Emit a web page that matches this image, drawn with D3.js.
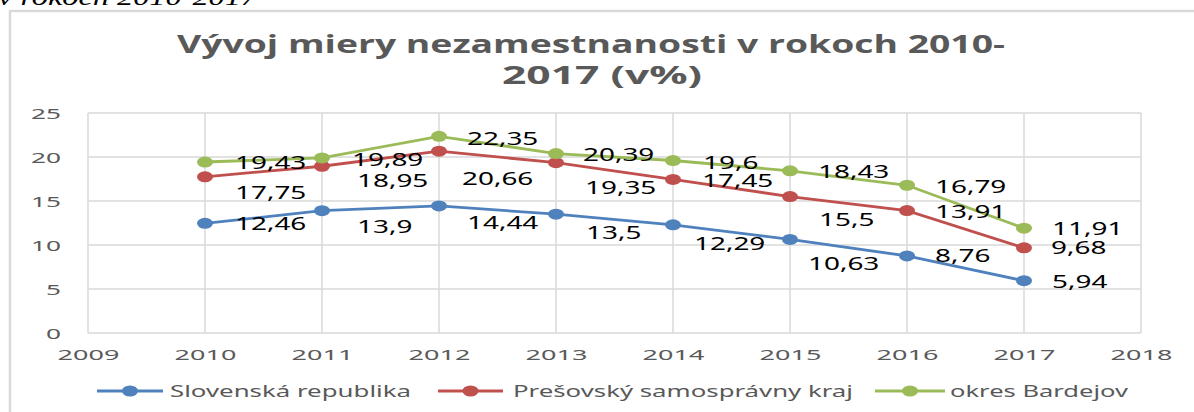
<!DOCTYPE html>
<html><head><meta charset="utf-8">
<script src="https://cdn.jsdelivr.net/npm/d3@7"></script>
<style>html,body{margin:0;padding:0;background:#fff;overflow:hidden}</style>
</head><body>
<svg id="c" width="1194" height="412"></svg>
<script>
// ---- data ----
const years = [2010, 2011, 2012, 2013, 2014, 2015, 2016, 2017];
const seriesNames = ["Slovenská republika", "Prešovský samosprávny kraj", "okres Bardejov"];
const slovensko = [12.46, 13.9, 14.44, 13.5, 12.29, 10.63, 8.76, 5.94];
const presov = [17.75, 18.95, 20.66, 19.35, 17.45, 15.5, 13.91, 9.68];
const bardejov = [19.43, 19.89, 22.35, 20.39, 19.6, 18.43, 16.79, 11.91];
const xTicks = [2009, 2010, 2011, 2012, 2013, 2014, 2015, 2016, 2017, 2018];
const yTicks = [0, 5, 10, 15, 20, 25];
const titleLines = ["Vývoj miery nezamestnanosti v rokoch 2010-", "2017 (v%)"];
const captionText = "v rokoch 2010-2017";

// ---- styles / label placement (not data) ----
const colors = ["#4f81bd", "#c0504d", "#9bbb59"];
const labelDx = [[30,35,28,30,21,18,28,28],[30,35,23,29,29,29,28,27],[30,30,28,27,30,28,28,28]];
const labelDy = [[0,16,17,18,18.5,24,0,1],[16,14.5,27.5,25,1,23,1,0],[1,2,2,1,1.5,1,1,0]];

const svg = d3.select("#c");
const x = d3.scaleLinear().domain([2009, 2018]).range([88, 1141]);
const y = d3.scaleLinear().domain([0, 25]).range([333, 113]);

function stretch(sel, k, anchor) {
  sel.each(function () {
    const w = this.getComputedTextLength();
    const tw = w * k;
    this.setAttribute("textLength", tw);
    this.setAttribute("lengthAdjust", "spacingAndGlyphs");
    const x0 = +this.getAttribute("x");
    let nx = x0;
    if (anchor === "middle") nx = x0 - tw / 2;
    else if (anchor === "end") nx = x0 - tw;
    this.setAttribute("x", nx);
    this.setAttribute("text-anchor", "start");
  });
}

// caption (cut off at top)
svg.append("text").attr("x", -2).attr("y", 5)
  .attr("font-family", "Liberation Serif").attr("font-style", "italic")
  .attr("font-size", 24).attr("fill", "#000")
  .attr("textLength", 259).attr("lengthAdjust", "spacingAndGlyphs")
  .text(captionText);

// frame
svg.append("rect").attr("x", 10).attr("y", 11).attr("width", 1200).attr("height", 420)
  .attr("fill", "#fff").attr("stroke", "#d9d9d9").attr("stroke-width", 2.5);

// title
const tl = svg.append("g").attr("font-family", "Open Sans").attr("font-weight", "bold")
  .attr("font-size", 25).attr("fill", "#595959");
tl.append("text").attr("x", 177).attr("y", 53).attr("textLength", 828)
  .attr("lengthAdjust", "spacingAndGlyphs").text(titleLines[0]);
tl.append("text").attr("x", 502).attr("y", 84).attr("textLength", 200)
  .attr("lengthAdjust", "spacingAndGlyphs").text(titleLines[1]);

// gridlines
const grid = svg.append("g").attr("stroke", "#d9d9d9").attr("stroke-width", 1.5);
grid.selectAll("line.h").data(yTicks).join("line")
  .attr("x1", x(2009)).attr("x2", x(2018)).attr("y1", d => y(d)).attr("y2", d => y(d));
grid.selectAll("line.v").data(xTicks).join("line")
  .attr("y1", y(25)).attr("y2", y(0)).attr("x1", d => x(d)).attr("x2", d => x(d));

// axes via d3 axis
const yAxis = svg.append("g").attr("transform", `translate(${x(2009)},0)`)
  .call(d3.axisLeft(y).tickValues(yTicks).tickSize(0).tickPadding(27));
yAxis.select(".domain").remove();
yAxis.selectAll("text").attr("font-family", "Noto Sans").attr("font-size", 15)
  .attr("fill", "#595959").attr("dy", "0.36em");
stretch(yAxis.selectAll("text"), 1.75, "end");

const xAxis = svg.append("g").attr("transform", `translate(0,${y(0)})`)
  .call(d3.axisBottom(x).tickValues(xTicks).tickFormat(d3.format("d")).tickSize(0).tickPadding(16));
xAxis.select(".domain").remove();
xAxis.selectAll("text").attr("font-family", "Noto Sans").attr("font-size", 15)
  .attr("fill", "#595959").attr("dy", "0.71em");
stretch(xAxis.selectAll("text"), 1.8, "middle");

// series
const all = [slovensko, presov, bardejov];
const line = d3.line().x((d, i) => x(years[i])).y(d => y(d));
all.forEach((vals, s) => {
  svg.append("path").datum(vals).attr("d", line).attr("fill", "none")
    .attr("stroke", colors[s]).attr("stroke-width", 2.8);
  svg.append("g").selectAll("ellipse").data(vals).join("ellipse")
    .attr("cx", (d, i) => x(years[i])).attr("cy", d => y(d))
    .attr("rx", 8).attr("ry", 5.5).attr("fill", colors[s]);
});
all.forEach((vals, s) => {
  const lbl = svg.append("g").selectAll("text").data(vals).join("text")
    .attr("x", (d, i) => x(years[i]) + labelDx[s][i])
    .attr("y", (d, i) => y(d) + labelDy[s][i])
    .attr("dy", "0.36em")
    .attr("font-family", "Noto Sans").attr("font-size", 18).attr("fill", "#000")
    .text(d => String(d).replace(".", ","));
  stretch(lbl, 1.55, "start");
});

// legend
const legX = [[97, 163], [438, 503], [875, 945]];
const legTextX = [170, 513, 950];
const legTextW = [241, 340, 178];
const legY = 391;
const leg = svg.append("g");
seriesNames.forEach((name, s) => {
  leg.append("line").attr("x1", legX[s][0]).attr("x2", legX[s][1])
    .attr("y1", legY).attr("y2", legY).attr("stroke", colors[s]).attr("stroke-width", 2.8);
  leg.append("ellipse").attr("cx", (legX[s][0] + legX[s][1]) / 2).attr("cy", legY)
    .attr("rx", 8).attr("ry", 5.5).attr("fill", colors[s]);
  leg.append("text").attr("x", legTextX[s]).attr("y", legY).attr("dy", "0.36em")
    .attr("font-family", "Noto Sans").attr("font-size", 17).attr("fill", "#595959")
    .attr("textLength", legTextW[s]).attr("lengthAdjust", "spacingAndGlyphs")
    .text(name);
});
</script>
</body></html>
